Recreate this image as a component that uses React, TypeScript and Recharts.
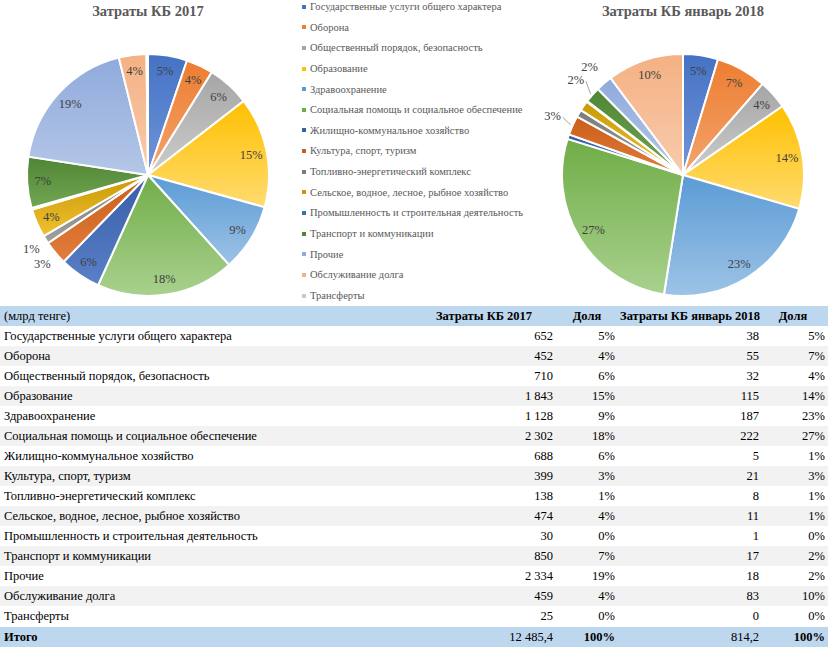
import React from 'react';
import { PieChart, Pie, Cell } from 'recharts';

const categories = [
  'Государственные услуги общего характера',
  'Оборона',
  'Общественный порядок, безопасность',
  'Образование',
  'Здравоохранение',
  'Социальная помощь и социальное обеспечение',
  'Жилищно-коммунальное хозяйство',
  'Культура, спорт, туризм',
  'Топливно-энергетический комплекс',
  'Сельское, водное, лесное, рыбное хозяйство',
  'Промышленность и строительная деятельность',
  'Транспорт и коммуникации',
  'Прочие',
  'Обслуживание долга',
  'Трансферты',
];

const spend2017 = [652, 452, 710, 1843, 1128, 2302, 688, 399, 138, 474, 30, 850, 2334, 459, 25];
const share2017 = [5, 4, 6, 15, 9, 18, 6, 3, 1, 4, 0, 7, 19, 4, 0];
const spend2018 = [38, 55, 32, 115, 187, 222, 5, 21, 8, 11, 1, 17, 18, 83, 0];
const share2018 = [5, 7, 4, 14, 23, 27, 1, 3, 1, 1, 0, 2, 2, 10, 0];
const total2017 = 12485.4;
const total2018 = 814.2;

const colors = [
  '#4472C4', '#ED7D31', '#A5A5A5', '#FFC000', '#5B9BD5', '#70AD47',
  '#365DA6', '#C95E18', '#7B7B7B', '#C99A05', '#2E75B6', '#4F8534',
  '#8FAADC', '#F4B183', '#C9C9C9',
];
const colorsLight = [
  '#7196DA', '#F4A46E', '#CDCDCD', '#FFDB70', '#9DC3E6', '#A9D18E',
  '#5A80C8', '#E27D3C', '#A0A0A0', '#F0C030', '#5A98D2', '#72A653',
  '#B4C7E7', '#F8CBAD', '#DEDEDE',
];

const SERIF = '"Liberation Serif", "Times New Roman", serif';
const TEXT = '#595959';

const fmt = (v: number) => {
  const [i, d] = v.toString().split('.');
  const s = i.replace(/\B(?=(\d{3})+(?!\d))/g, ' ');
  return d ? `${s},${d}` : s;
};

const RAD = Math.PI / 180;

function makeLabel(minShow: number, outOffset: number) {
  return (props: any) => {
    const { cx, cy, midAngle, outerRadius, percent } = props;
    if (percent < minShow) return <g />;
    const inside = percent >= 0.035;
    const r = inside ? outerRadius * 0.87 : outerRadius + outOffset;
    const x = cx + r * Math.cos(-midAngle * RAD);
    const y = cy + r * Math.sin(-midAngle * RAD);
    let line = null;
    if (!inside) {
      const ex = cx + (outerRadius + 1) * Math.cos(-midAngle * RAD);
      const ey = cy + (outerRadius + 1) * Math.sin(-midAngle * RAD);
      if (ex - (x + 8) > 7) {
        line = <line x1={x + 10} y1={y + 1} x2={ex - 1} y2={ey} stroke="#a6a6a6" strokeWidth={1} />;
      }
    }
    return (
      <g>
        {line}
        <text
          x={x}
          y={y}
          textAnchor="middle"
          dominantBaseline="central"
          fill="#404040"
          fontFamily={SERIF}
          fontSize={12.5}
        >
          {`${Math.round(percent * 100)}%`}
        </text>
      </g>
    );
  };
}

function SpendPie({ values, left, width, cx, minShow, outOffset, title }: {
  values: number[]; left: number; width: number; cx: number; minShow: number; outOffset: number; title: string;
}) {
  const data = categories.map((name, i) => ({ name, value: values[i] }));
  return (
    <div style={{ position: 'absolute', left, top: 0, width, height: 305 }}>
      <div
        style={{
          position: 'absolute', left: cx - 120, width: 240, top: 3, textAlign: 'center',
          fontFamily: SERIF, fontWeight: 'bold', fontSize: 14.5, color: TEXT,
        }}
      >
        {title}
      </div>
      <PieChart width={width} height={305} margin={{ top: 0, right: 0, bottom: 0, left: 0 }}>
        <Pie
          data={data}
          dataKey="value"
          nameKey="name"
          cx={cx}
          cy={175}
          outerRadius={121}
          startAngle={90}
          endAngle={-270}
          stroke="#ffffff"
          strokeWidth={2}
          labelLine={false}
          label={makeLabel(minShow, outOffset)}
          isAnimationActive={false}
        >
          {data.map((d, i) => (
            <Cell key={d.name} fill={`url(#grad${i})`} />
          ))}
        </Pie>
      </PieChart>
    </div>
  );
}

export default function App() {
  const rowH = 20;
  const tableTop = 306;
  const cols = [
    { right: 553 },
    { right: 615 },
    { right: 759 },
    { right: 825 },
  ];
  const cell = (text: string, right: number, top: number, bold = false) => (
    <div
      style={{
        position: 'absolute', right: 828 - right, top, height: rowH, lineHeight: `${rowH}px`,
        whiteSpace: 'nowrap', fontWeight: bold ? 'bold' : 'normal',
      }}
    >
      {text}
    </div>
  );

  return (
    <div
      style={{
        position: 'absolute', left: 0, top: 0, width: 828, height: 647, overflow: 'hidden',
        background: '#ffffff', fontFamily: SERIF,
      }}
    >
      <svg width={0} height={0} style={{ position: 'absolute' }}>
        <defs>
          {colors.map((c, i) => (
            <linearGradient key={c} id={`grad${i}`} x1="0" y1="0" x2="0" y2="1">
              <stop offset="0%" stopColor={c} />
              <stop offset="100%" stopColor={colorsLight[i]} />
            </linearGradient>
          ))}
        </defs>
      </svg>

      <SpendPie values={spend2017} left={0} width={300} cx={148} minShow={0.005} outOffset={17} title="Затраты КБ 2017" />
      <SpendPie values={spend2018} left={530} width={298} cx={153} minShow={0.015} outOffset={22} title="Затраты КБ январь 2018" />

      {categories.map((name, i) => (
        <div
          key={name}
          style={{
            position: 'absolute', left: 302, top: i * 20.64 - 1, height: 16, lineHeight: '16px',
            fontSize: 10.5, color: TEXT, whiteSpace: 'nowrap',
          }}
        >
          <span
            style={{
              display: 'inline-block', width: 4, height: 4, background: colors[i],
              marginRight: 4, verticalAlign: 'middle', position: 'relative', top: -1,
            }}
          />
          {name}
        </div>
      ))}

      <div style={{ position: 'absolute', left: 0, top: tableTop, width: 828, height: 341, fontSize: 12.5, color: '#000' }}>
        <div style={{ position: 'absolute', left: 0, top: 0, width: 828, height: rowH, background: '#BDD7EE' }} />
        <div style={{ position: 'absolute', left: 4, top: 0, height: rowH, lineHeight: `${rowH}px` }}>(млрд тенге)</div>
        <div style={{ position: 'absolute', left: 412, width: 144, top: 0, textAlign: 'center', height: rowH, lineHeight: `${rowH}px`, fontWeight: 'bold' }}>Затраты КБ 2017</div>
        <div style={{ position: 'absolute', left: 556, width: 62, top: 0, textAlign: 'center', height: rowH, lineHeight: `${rowH}px`, fontWeight: 'bold' }}>Доля</div>
        <div style={{ position: 'absolute', left: 618, width: 144, top: 0, textAlign: 'center', height: rowH, lineHeight: `${rowH}px`, fontWeight: 'bold' }}>Затраты КБ январь 2018</div>
        <div style={{ position: 'absolute', left: 762, width: 62, top: 0, textAlign: 'center', height: rowH, lineHeight: `${rowH}px`, fontWeight: 'bold' }}>Доля</div>

        {categories.map((name, i) => {
          const top = (i + 1) * rowH;
          return (
            <React.Fragment key={name}>
              {i % 2 === 1 && (
                <div style={{ position: 'absolute', left: 0, top, width: 828, height: rowH, background: '#F2F2F2' }} />
              )}
              <div style={{ position: 'absolute', left: 4, top, height: rowH, lineHeight: `${rowH}px`, whiteSpace: 'nowrap' }}>{name}</div>
              {cell(fmt(spend2017[i]), cols[0].right, top)}
              {cell(`${share2017[i]}%`, cols[1].right, top)}
              {cell(fmt(spend2018[i]), cols[2].right, top)}
              {cell(`${share2018[i]}%`, cols[3].right, top)}
            </React.Fragment>
          );
        })}

        <div style={{ position: 'absolute', left: 0, top: 16 * rowH + 1, width: 828, height: rowH + 4, background: '#BDD7EE' }} />
        <div style={{ position: 'absolute', left: 4, top: 16 * rowH + 1, height: rowH, lineHeight: `${rowH}px`, fontWeight: 'bold' }}>Итого</div>
        {cell(fmt(total2017), cols[0].right, 16 * rowH + 1)}
        {cell('100%', cols[1].right, 16 * rowH + 1, true)}
        {cell(fmt(total2018), cols[2].right, 16 * rowH + 1)}
        {cell('100%', cols[3].right, 16 * rowH + 1, true)}
      </div>
    </div>
  );
}
